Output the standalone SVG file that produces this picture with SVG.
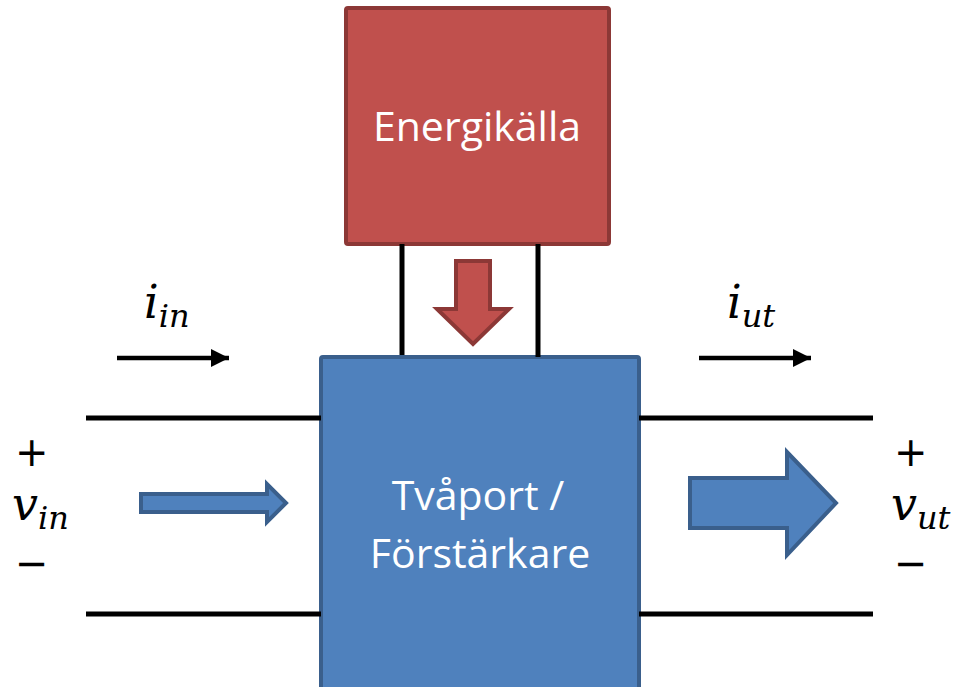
<svg xmlns="http://www.w3.org/2000/svg" width="959" height="687" viewBox="0 0 959 687">
  <style>
    .wire { stroke: #000; stroke-width: 5; fill: none; }
    .label { font-family: "Open Sans", "Noto Sans", sans-serif; fill: #fff; text-anchor: middle; }
    .math { font-family: "DejaVu Serif", "Liberation Serif", serif; font-style: italic; fill: #000; }
    .sign { font-family: "DejaVu Sans", "Liberation Sans", sans-serif; fill: #000; }
    .blue { fill: #4f81bd; stroke: #3a5f8c; stroke-width: 4; stroke-linejoin: miter; }
    .red { fill: #c0504d; stroke: #8c3836; stroke-width: 4; }
  </style>
  <defs>
    <marker id="head" viewBox="0 0 10 10" refX="10" refY="5" markerWidth="4" markerHeight="4" orient="auto" markerUnits="strokeWidth">
      <path d="M0,0 L10,5 L0,10 z" fill="#000"/>
    </marker>
  </defs>

  <!-- power source -->
  <g id="energikalla">
    <rect class="red" x="346" y="8" width="263" height="236" rx="2"/>
    <text class="label" x="477" y="141" font-size="41">Energikälla</text>
  </g>

  <!-- two-port / amplifier -->
  <g id="tvaport">
    <rect class="blue" x="321" y="357" width="318" height="340" rx="2"/>
    <text class="label" x="478" y="510" font-size="41">Tvåport /</text>
    <text class="label" x="480" y="568" font-size="41">Förstärkare</text>
  </g>

  <!-- connectors: wires and flow arrows -->
  <g id="connectors">
    <line class="wire" x1="402" y1="244" x2="402" y2="355"/>
    <line class="wire" x1="538" y1="244" x2="538" y2="357"/>
    <line class="wire" x1="86" y1="418" x2="321" y2="418"/>
    <line class="wire" x1="86" y1="614" x2="321" y2="614"/>
    <line class="wire" x1="639" y1="418" x2="873" y2="418"/>
    <line class="wire" x1="639" y1="614" x2="873" y2="614"/>

    <!-- current direction arrows -->
    <line x1="117" y1="358" x2="229" y2="358" stroke="#000" stroke-width="4.5" marker-end="url(#head)"/>
    <line x1="699" y1="358" x2="811" y2="358" stroke="#000" stroke-width="4.5" marker-end="url(#head)"/>

    <!-- power flow from source into the two-port -->
    <path class="red" stroke="#3a5f8c" stroke-width="3.5" d="M456,261 L490,261 L490,309 L509,309 L473,344 L437,309 L456,309 z"/>

    <!-- signal in -->
    <path class="blue" stroke-width="3" d="M141,494 L267,494 L267,484 L286,503 L267,522 L267,512 L141,512 z"/>
    <!-- signal out -->
    <path class="blue" stroke-width="3.5" d="M690,478 L787,478 L787,452 L836,503 L787,555 L787,528 L690,528 z"/>
  </g>

  <!-- port quantities -->
  <g id="i-in">
    <text class="math" x="144" y="318" font-size="46">i<tspan font-size="32" dy="9">in</tspan></text>
  </g>
  <g id="i-ut">
    <text class="math" x="727" y="318" font-size="46">i<tspan font-size="32" dy="9">ut</tspan></text>
  </g>
  <g id="v-in">
    <text class="sign" x="15" y="466" font-size="40">+</text>
    <text class="math" x="12" y="520" font-size="46">v<tspan font-size="32" dy="9">in</tspan></text>
    <text class="sign" x="15" y="577" font-size="40">−</text>
  </g>
  <g id="v-ut">
    <text class="sign" x="894" y="466" font-size="40">+</text>
    <text class="math" x="891" y="520" font-size="46">v<tspan font-size="32" dy="9">ut</tspan></text>
    <text class="sign" x="894" y="577" font-size="40">−</text>
  </g>
</svg>
